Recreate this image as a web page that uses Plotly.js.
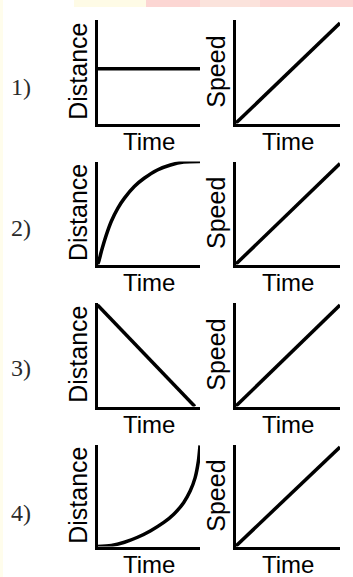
<!DOCTYPE html>
<html>
<head>
<meta charset="utf-8">
<script src="https://cdn.plot.ly/plotly-3.0.1.min.js"></script>
<style>html,body{margin:0;padding:0;background:#fff;}#chart{width:353px;height:577px;}</style>
</head>
<body>
<div id="chart"></div>
<script>
// ---- data (normalised 0-100 units) ----
const rowLabels = ['1)', '2)', '3)', '4)'];
const xTitle = 'Time';
const leftTitle = 'Distance';
const rightTitle = 'Speed';

const dist1Time = [0, 100];
const dist1Value = [53, 53];
const dist2Time = [0, 1.3, 3.8, 8.7, 13.5, 19.9, 26.3, 35.9, 45.5, 58.4, 71.2, 84, 100];
const dist2Value = [0, 3.2, 12.8, 29, 42, 54.8, 64.4, 75.7, 83.7, 91.8, 96.6, 99.5, 100];
const dist3Time = [0, 95];
const dist3Value = [98, 0];
const dist4Time = [0, 13.5, 26.3, 39.1, 51.9, 64.7, 74.4, 84, 90.4, 95.2, 98.4, 100];
const dist4Value = [0, 1, 4.2, 9.1, 15.6, 23.7, 31.8, 43.2, 54.6, 67.6, 83.9, 99.5];

const speed1Time = [0, 100];
const speed1Value = [0, 97];
const speed2Time = [0, 100];
const speed2Value = [0, 98];
const speed3Time = [0, 100];
const speed3Value = [0, 98];
const speed4Time = [0, 100];
const speed4Value = [0, 98];

// ---- layout helpers ----
const W = 353, H = 577;
const px = v => v / W;
const py = v => 1 - v / H;

const distT = [dist1Time, dist2Time, dist3Time, dist4Time];
const distV = [dist1Value, dist2Value, dist3Value, dist4Value];
const spT = [speed1Time, speed2Time, speed3Time, speed4Time];
const spV = [speed1Value, speed2Value, speed3Value, speed4Value];

const rowsPx = [[20, 123.5], [161.5, 264.5], [303, 406.5], [445, 546.5]];
const rowLabelY = [87, 228, 368, 513];
const leftPx = [97.5, 200];
const rightPx = [235.5, 340];

const traces = [];
const layout = {
  width: W, height: H,
  margin: {l: 0, r: 0, t: 0, b: 0},
  paper_bgcolor: '#ffffff',
  plot_bgcolor: 'rgba(0,0,0,0)',
  showlegend: false,
  font: {family: 'Liberation Sans, Arial, sans-serif', color: '#000'},
  annotations: [],
  shapes: [
    {type: 'rect', xref: 'paper', yref: 'paper', x0: px(74), x1: px(146), y0: py(7), y1: 1, line: {width: 0}, fillcolor: '#fefbe6', layer: 'below'},
    {type: 'rect', xref: 'paper', yref: 'paper', x0: px(146), x1: 1, y0: py(7), y1: 1, line: {width: 0}, fillcolor: '#fcd6d3', layer: 'below'},
    {type: 'rect', xref: 'paper', yref: 'paper', x0: px(200), x1: px(260), y0: py(7), y1: 1, line: {width: 0}, fillcolor: '#fbe3dc', layer: 'below'},
    {type: 'rect', xref: 'paper', yref: 'paper', x0: 0, x1: px(3), y0: 0, y1: 1, line: {width: 0}, fillcolor: '#fffdec', layer: 'below'}
  ]
};

const axisStyle = {
  range: [0, 100], showline: true, linecolor: '#000', linewidth: 3,
  showgrid: false, zeroline: false, showticklabels: false, ticks: '',
  fixedrange: true, mirror: false
};

let k = 1;
for (let r = 0; r < 4; r++) {
  const [top, bot] = rowsPx[r];
  const yd = [py(bot), py(top)];
  const panels = [
    {xpx: leftPx, t: distT[r], v: distV[r], title: leftTitle, titleX: 78},
    {xpx: rightPx, t: spT[r], v: spV[r], title: rightTitle, titleX: 216}
  ];
  panels.forEach(p => {
    const xa = 'xaxis' + (k === 1 ? '' : k), ya = 'yaxis' + (k === 1 ? '' : k);
    const xr = 'x' + (k === 1 ? '' : k), yr = 'y' + (k === 1 ? '' : k);
    layout[xa] = Object.assign({}, axisStyle, {domain: [px(p.xpx[0]), px(p.xpx[1])], anchor: yr});
    layout[ya] = Object.assign({}, axisStyle, {domain: yd, anchor: xr});
    traces.push({
      x: p.t, y: p.v, xaxis: xr, yaxis: yr, type: 'scatter', mode: 'lines',
      line: {color: '#000', width: 3.5, shape: p.t.length > 2 ? 'spline' : 'linear', smoothing: 0.8},
      hoverinfo: 'skip'
    });
    layout.annotations.push({
      text: xTitle, xref: 'paper', yref: 'paper',
      x: px((p.xpx[0] + p.xpx[1]) / 2), y: py(bot + 1.5 + 16.5),
      xanchor: 'center', yanchor: 'middle', showarrow: false,
      font: {size: 24, color: '#000'}
    });
    layout.annotations.push({
      text: p.title, xref: 'paper', yref: 'paper', textangle: -90,
      x: px(p.titleX), y: py((top + bot) / 2),
      xanchor: 'center', yanchor: 'middle', showarrow: false,
      font: {size: 25, color: '#000'}
    });
    k++;
  });
  layout.annotations.push({
    text: rowLabels[r], xref: 'paper', yref: 'paper',
    x: px(21), y: py(rowLabelY[r]), xanchor: 'center', yanchor: 'middle',
    showarrow: false, font: {family: 'Liberation Serif, Times New Roman, serif', size: 24, color: '#2a2a2a'}
  });
}

Plotly.newPlot('chart', traces, layout, {displayModeBar: false, staticPlot: true});
</script>
</body>
</html>
